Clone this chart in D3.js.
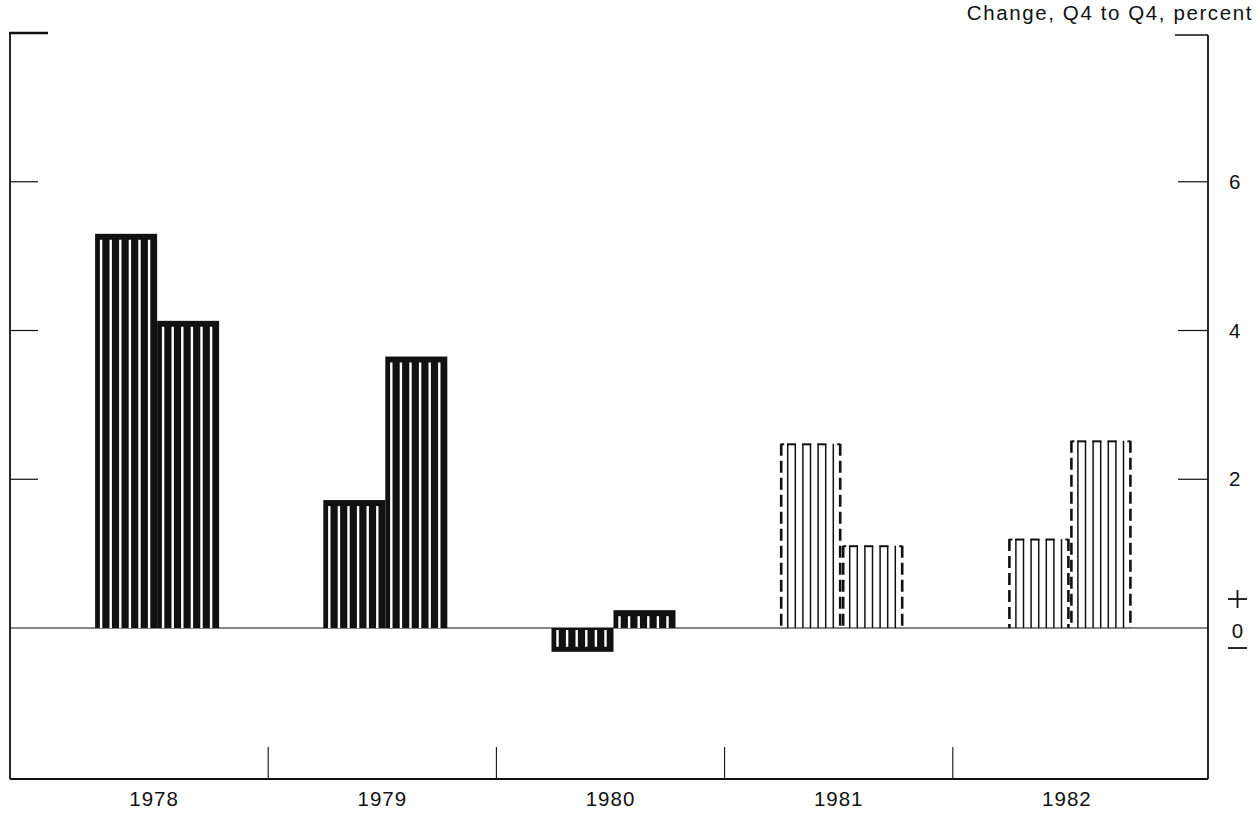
<!DOCTYPE html>
<html>
<head>
<meta charset="utf-8">
<script src="https://cdn.jsdelivr.net/npm/d3@7/dist/d3.min.js"></script>
<style>
  html, body { margin: 0; padding: 0; background: #fff; }
  svg { display: block; }
  text { font-family: "Liberation Sans", Arial, Helvetica, sans-serif; fill: #111; }
</style>
</head>
<body>
<svg id="chart" width="1256" height="813"></svg>
<script>
// ---- data ----
const categories = ["1978", "1979", "1980", "1981", "1982"];
const seriesA = [5.3, 1.72, -0.32, 2.49, 1.21];
const seriesB = [4.13, 3.65, 0.24, 1.12, 2.53];
const projected = [false, false, false, true, true];
const yTicks = [2, 4, 6];
const axisTitle = "Change, Q4 to Q4, percent";

// ---- layout ----
const svg = d3.select("#chart");
const frameL = 10, frameR = 1208, frameT = 33, frameB = 779;
const ink = "#111";
const fontSize = 20.5;

const x = d3.scaleBand().domain(categories).range([40, 1181]);
const barW = 62, barShift = 3;
const x1 = d3.scaleBand().domain([0, 1])
  .range([(x.bandwidth() - 2 * barW) / 2 + barShift, (x.bandwidth() + 2 * barW) / 2 + barShift]);
const y = d3.scaleLinear().domain([-2.03, 8.0]).range([frameB, frameT]);

// frame lines
const g = svg.append("g");
g.append("line").attr("x1", frameL).attr("x2", frameL).attr("y1", frameT).attr("y2", frameB)
  .attr("stroke", ink).attr("stroke-width", 1.8);
g.append("line").attr("x1", frameL - 0.9).attr("x2", 48).attr("y1", frameT).attr("y2", frameT)
  .attr("stroke", ink).attr("stroke-width", 2.5);
g.append("line").attr("x1", frameR).attr("x2", frameR).attr("y1", 35).attr("y2", frameB)
  .attr("stroke", ink).attr("stroke-width", 1.8);
g.append("line").attr("x1", 1175).attr("x2", frameR).attr("y1", 35).attr("y2", 35)
  .attr("stroke", ink).attr("stroke-width", 1.4);
g.append("line").attr("x1", frameL).attr("x2", frameR).attr("y1", frameB).attr("y2", frameB)
  .attr("stroke", ink).attr("stroke-width", 1.8);

// y ticks (both sides)
const rightAxis = d3.axisRight(y).tickValues(yTicks).tickSize(0).tickPadding(21).tickFormat(d3.format("d"));
const ra = svg.append("g").attr("transform", `translate(${frameR},0)`).call(rightAxis);
ra.select(".domain").remove();
ra.selectAll("text").attr("font-size", fontSize).attr("font-family", "Liberation Sans, Arial, sans-serif").attr("fill", ink);

g.selectAll(".ltick").data(yTicks).join("line")
  .attr("x1", frameL).attr("x2", 38)
  .attr("y1", d => y(d)).attr("y2", d => y(d))
  .attr("stroke", ink).attr("stroke-width", 1.2);
g.selectAll(".rtick").data(yTicks).join("line")
  .attr("x1", 1178).attr("x2", frameR)
  .attr("y1", d => y(d)).attr("y2", d => y(d))
  .attr("stroke", ink).attr("stroke-width", 1.2);

// zero line
g.append("line").attr("x1", frameL).attr("x2", frameR).attr("y1", y(0)).attr("y2", y(0))
  .attr("stroke", ink).attr("stroke-width", 1.2);

// +, 0, − labels
const zx = 1237.5;
svg.append("line").attr("x1", zx - 9.5).attr("x2", zx + 9.5).attr("y1", y(0) - 29).attr("y2", y(0) - 29)
  .attr("stroke", ink).attr("stroke-width", 1.8);
svg.append("line").attr("x1", zx).attr("x2", zx).attr("y1", y(0) - 38).attr("y2", y(0) - 20)
  .attr("stroke", ink).attr("stroke-width", 1.8);
svg.append("text").attr("x", zx).attr("y", y(0) + 2).attr("text-anchor", "middle")
  .attr("font-size", fontSize).attr("dominant-baseline", "central").text("0");
svg.append("line").attr("x1", zx - 9.5).attr("x2", zx + 9.5).attr("y1", y(0) + 20).attr("y2", y(0) + 20)
  .attr("stroke", ink).attr("stroke-width", 1.8);

// axis title
svg.append("text").attr("x", 1253).attr("y", 20).attr("text-anchor", "end")
  .attr("font-size", fontSize).attr("letter-spacing", "1.6px").text(axisTitle);

// category separators and labels
const seps = categories.slice(1).map(c => x(c));
g.selectAll(".sep").data(seps).join("line")
  .attr("x1", d => d).attr("x2", d => d).attr("y1", 747).attr("y2", frameB)
  .attr("stroke", ink).attr("stroke-width", 1.1);

const xAxis = d3.axisBottom(x).tickSize(0).tickPadding(12);
const xa = svg.append("g").attr("transform", `translate(0,${frameB})`).call(xAxis);
xa.select(".domain").remove();
xa.selectAll("text").attr("font-size", fontSize).attr("letter-spacing", "1px")
  .attr("font-family", "Liberation Sans, Arial, sans-serif").attr("fill", ink);

// ---- bars ----
const bars = [];
categories.forEach((c, i) => {
  bars.push({ cat: c, k: 0, v: seriesA[i], proj: projected[i] });
  bars.push({ cat: c, k: 1, v: seriesB[i], proj: projected[i] });
});

const barG = svg.append("g");
bars.forEach(b => {
  const x0 = x(b.cat) + x1(b.k);
  const w = x1.bandwidth();
  const yTop = Math.min(y(b.v), y(0));
  const yBot = Math.max(y(b.v), y(0));
  const h = yBot - yTop;
  const gb = barG.append("g");
  if (!b.proj) {
    gb.append("rect").attr("x", x0).attr("y", yTop).attr("width", w).attr("height", h).attr("fill", ink);
    const neg = b.v < 0;
    const s0 = neg ? yTop + 2 : yTop + 6;
    const s1 = neg ? yBot - 5 : yBot;
    const xs = d3.range(x0 + 6, x0 + w - 4, 9.6);
    gb.selectAll("line").data(xs).join("line")
      .attr("x1", d => d).attr("x2", d => d).attr("y1", s0).attr("y2", s1)
      .attr("stroke", "#fff").attr("stroke-width", 2.4);
  } else {
    const xs = d3.range(x0 + 8, x0 + w - 5, 7.6);
    gb.selectAll("line.v").data(xs).join("line").attr("class", "v")
      .attr("x1", d => d).attr("x2", d => d).attr("y1", yTop + 1).attr("y2", yBot)
      .attr("stroke", ink).attr("stroke-width", 1.5);
    const pairs = d3.range(0, xs.length - 1, 2).map(j => [xs[j], xs[j + 1]]);
    gb.selectAll("line.h").data(pairs).join("line").attr("class", "h")
      .attr("x1", d => d[0] - 0.75).attr("x2", d => d[1] + 0.75).attr("y1", yTop + 1.5).attr("y2", yTop + 1.5)
      .attr("stroke", ink).attr("stroke-width", 2);
    // dashed sides with small hooks at the top
    [x0 + 1.5, x0 + w - 1.5].forEach((sx, si) => {
      gb.append("line").attr("x1", sx).attr("x2", sx).attr("y1", yTop + 1).attr("y2", yBot)
        .attr("stroke", ink).attr("stroke-width", 2.6).attr("stroke-dasharray", "12,5");
      gb.append("line").attr("x1", sx).attr("x2", si === 0 ? sx + 3 : sx - 3)
        .attr("y1", yTop + 1.5).attr("y2", yTop + 1.5)
        .attr("stroke", ink).attr("stroke-width", 2);
    });
  }
});
</script>
</body>
</html>
